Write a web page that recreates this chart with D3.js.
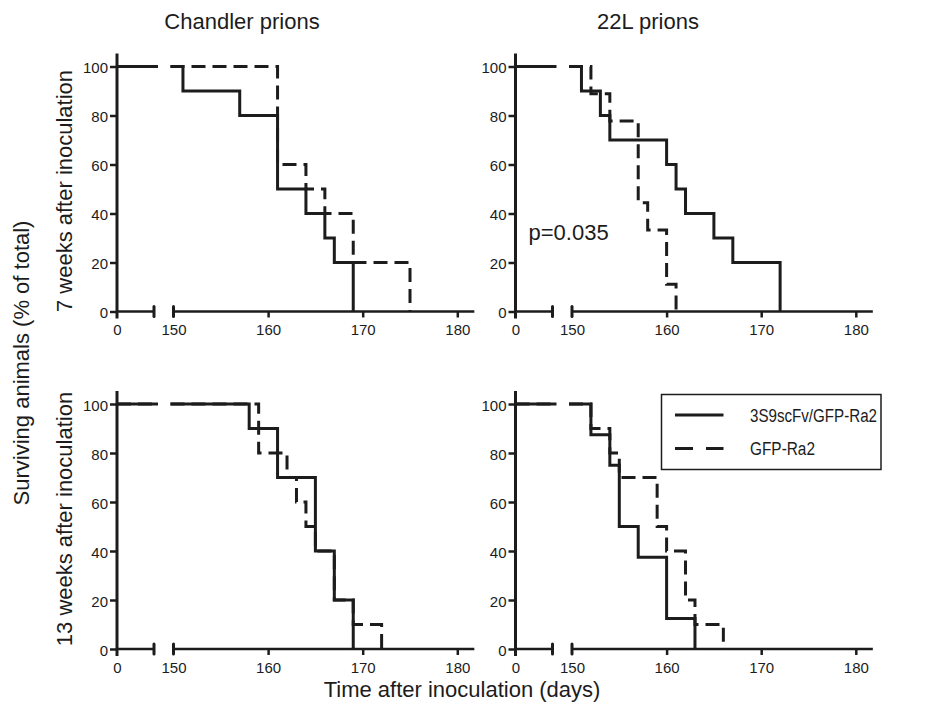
<!DOCTYPE html>
<html>
<head>
<meta charset="utf-8">
<script src="https://cdn.jsdelivr.net/npm/d3@7"></script>
<style>
  body { margin: 0; background: #fff; }
  svg { display: block; font-family: "Liberation Sans", Arial, Helvetica, sans-serif; }
</style>
</head>
<body>
<svg id="chart" width="936" height="711"></svg>
<script>
// column / row headings
var prions = ["Chandler prions", "22L prions"];
var weeks = ["7 weeks after inoculation", "13 weeks after inoculation"];
var seriesNames = ["3S9scFv/GFP-Ra2", "GFP-Ra2"];

var yTicks = [0, 20, 40, 60, 80, 100];
var xTicks = [150, 160, 170, 180];

// survival steps: [day of drop, % surviving after the drop]
var chandler7Treated = [[151, 90], [157, 80], [161, 50], [164, 40], [166, 30], [167, 20], [169, 0]];
var chandler7Control = [[161, 60], [164, 50], [166, 40], [169, 20], [175, 0]];
var l22w7Treated = [[151, 90], [153, 80], [154, 70], [160, 60], [161, 50], [162, 40], [165, 30], [167, 20], [172, 0]];
var l22w7Control = [[152, 88.9], [154, 77.8], [157, 44.4], [158, 33.3], [160, 11.1], [161, 0]];
var chandler13Treated = [[158, 90], [161, 70], [165, 40], [167, 20], [169, 0]];
var chandler13Control = [[159, 80], [162, 70], [163, 60], [164, 50], [165, 40], [167, 20], [169, 10], [172, 0]];
var l22w13Treated = [[152, 87.5], [154, 75], [155, 50], [157, 37.5], [160, 12.5], [163, 0]];
var l22w13Control = [[152, 90], [154, 80], [155, 70], [159, 50], [160, 40], [162, 20], [163, 10], [166, 0]];

var panels = [
  {row: 0, col: 0, treated: chandler7Treated, control: chandler7Control},
  {row: 0, col: 1, treated: l22w7Treated, control: l22w7Control, note: "p=0.035"},
  {row: 1, col: 0, treated: chandler13Treated, control: chandler13Control},
  {row: 1, col: 1, treated: l22w13Treated, control: l22w13Control, legend: true}
];

var ink = "#1c1c1c";
var colAxis = [117, 515.5];   // y axis position of each column
var rowTop = [66.5, 404];     // y of 100%
var rowBottom = [311.5, 649]; // y of 0%
var titleX = [242, 648];

var svg = d3.select("#chart");

// headings
svg.selectAll("text.title")
  .data(prions)
  .enter().append("text")
  .attr("class", "title")
  .attr("x", function(d, i) { return titleX[i]; })
  .attr("y", 29)
  .attr("text-anchor", "middle")
  .attr("font-size", 22)
  .attr("fill", ink)
  .text(function(d) { return d; });

svg.selectAll("text.rowlab")
  .data(weeks)
  .enter().append("text")
  .attr("class", "rowlab")
  .attr("transform", function(d, i) { return "translate(72," + (i === 0 ? 191 : 519) + ") rotate(-90)"; })
  .attr("text-anchor", "middle")
  .attr("font-size", 22)
  .attr("fill", ink)
  .text(function(d) { return d; });

svg.append("text")
  .attr("transform", "translate(29,363) rotate(-90)")
  .attr("text-anchor", "middle")
  .attr("font-size", 22)
  .attr("fill", ink)
  .text("Surviving animals (% of total)");

svg.append("text")
  .attr("x", 462)
  .attr("y", 697)
  .attr("text-anchor", "middle")
  .attr("font-size", 22)
  .attr("fill", ink)
  .text("Time after inoculation (days)");

panels.forEach(function(p) {
  var ax = colAxis[p.col];
  var g = svg.append("g");

  var y = d3.scaleLinear().domain([0, 100]).range([rowBottom[p.row], rowTop[p.row]]);
  // broken x axis: short 0.. segment, then 150..182
  var xLeft = d3.scaleLinear().domain([0, 4]).range([ax, ax + 37]);
  var xMain = d3.scaleLinear().domain([150, 180]).range([ax + 56.5, ax + 340.3]);
  var xEnd = 181.8;
  var y0 = y(0);

  // y axis
  var yAxis = g.append("g")
    .attr("transform", "translate(" + ax + ",0)")
    .call(d3.axisLeft(y).tickValues(yTicks).tickSize(7).tickPadding(2));
  yAxis.select(".domain").remove();
  yAxis.selectAll(".tick line").attr("stroke", ink).attr("stroke-width", 2.5);
  yAxis.selectAll(".tick text").attr("dy", "0.42em");
  g.append("line")
    .attr("x1", ax).attr("x2", ax)
    .attr("y1", y(100) - 13).attr("y2", y0 + 7)
    .attr("stroke", ink).attr("stroke-width", 3);

  // x axis, left piece
  var xl = g.append("g")
    .attr("transform", "translate(0," + y0 + ")")
    .call(d3.axisBottom(xLeft).tickValues([0]).tickFormat(d3.format("d")).tickSize(0).tickPadding(13));
  xl.select(".domain").remove();
  // x axis, main piece
  var xm = g.append("g")
    .attr("transform", "translate(0," + y0 + ")")
    .call(d3.axisBottom(xMain).tickValues(xTicks).tickFormat(d3.format("d")).tickSize(6).tickPadding(7));
  xm.select(".domain").remove();
  xm.selectAll(".tick line").attr("stroke", ink).attr("stroke-width", 2.5)
    .filter(function(d) { return d === 150; }).remove();
  g.selectAll(".tick text")
    .attr("font-size", 15)
    .attr("font-family", "'Liberation Sans', Arial, sans-serif")
    .attr("fill", ink);

  g.append("line")
    .attr("x1", ax).attr("x2", xLeft(4))
    .attr("y1", y0).attr("y2", y0)
    .attr("stroke", ink).attr("stroke-width", 2.5);
  g.append("line")
    .attr("x1", xMain(150)).attr("x2", xMain(xEnd))
    .attr("y1", y0).attr("y2", y0)
    .attr("stroke", ink).attr("stroke-width", 2.5);
  // break caps
  [xLeft(4), xMain(150)].forEach(function(cx) {
    g.append("line")
      .attr("x1", cx).attr("x2", cx)
      .attr("y1", y0 - 5).attr("y2", y0 + 5)
      .attr("stroke", ink).attr("stroke-width", 3)
      .attr("stroke-linecap", "round");
  });

  // survival curves
  var line = d3.line();
  function curvePoints(steps) {
    var pts = [[xMain(150) - 3, y(100)]];
    var level = 100;
    steps.forEach(function(s) {
      pts.push([xMain(s[0]), y(level)]);
      pts.push([xMain(s[0]), y(s[1])]);
      level = s[1];
    });
    return pts;
  }
  var leftPiece = [[xLeft(0), y(100)], [xLeft(4) + 4, y(100)]];

  [["control", "14,7"], ["treated", null]].forEach(function(k) {
    var pts = curvePoints(p[k[0]]);
    [leftPiece, pts].forEach(function(pp) {
      g.append("path")
        .attr("d", line(pp))
        .attr("fill", "none")
        .attr("stroke", ink)
        .attr("stroke-width", 3)
        .attr("stroke-dasharray", k[1]);
    });
  });

  if (p.note) {
    g.append("text")
      .attr("x", ax + 13)
      .attr("y", y(30) + 2)
      .attr("font-size", 22)
      .attr("fill", ink)
      .text(p.note);
  }

  if (p.legend) {
    var lg = g.append("g");
    lg.append("rect")
      .attr("x", 661.5).attr("y", 394.5)
      .attr("width", 219.5).attr("height", 75)
      .attr("fill", "#fff")
      .attr("stroke", ink).attr("stroke-width", 1.5);
    seriesNames.forEach(function(name, i) {
      var ly = 415 + i * 33.5;
      lg.append("line")
        .attr("x1", 675).attr("x2", 723.5)
        .attr("y1", ly).attr("y2", ly)
        .attr("stroke", ink).attr("stroke-width", 3)
        .attr("stroke-dasharray", i === 1 ? "18,13" : null);
      lg.append("text")
        .attr("x", 750)
        .attr("y", ly + 6.5)
        .attr("font-size", 18)
        .attr("fill", ink)
        .attr("textLength", i === 0 ? 127 : 65)
        .attr("lengthAdjust", "spacingAndGlyphs")
        .text(name);
    });
  }
});
</script>
</body>
</html>
